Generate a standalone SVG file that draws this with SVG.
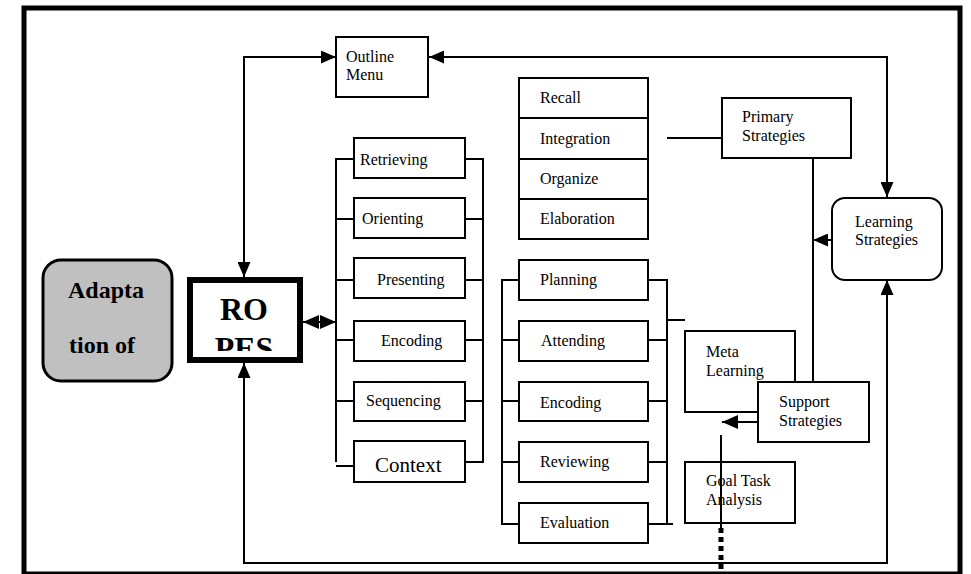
<svg xmlns="http://www.w3.org/2000/svg" width="971" height="574" viewBox="0 0 971 574">
<defs>
<marker id="ah" markerUnits="userSpaceOnUse" markerWidth="15" markerHeight="13" refX="15" refY="6.5" orient="auto-start-reverse" viewBox="0 0 15 13"><path d="M0,0 L15,6.5 L0,13 z" fill="#000"/></marker>
<marker id="ahs" markerUnits="userSpaceOnUse" markerWidth="16" markerHeight="14" refX="16" refY="7" orient="auto-start-reverse" viewBox="0 0 16 14"><path d="M0,0 L16,7 L0,14 z" fill="#000"/></marker>
<clipPath id="roclip"><rect x="193" y="283" width="104" height="68"/></clipPath>
</defs>
<style>
.box{fill:#fff;stroke:#000;stroke-width:2}
.t{font-family:"Liberation Serif","Times New Roman",serif;font-size:16px;fill:#000}
.big{font-size:21px}
.b{font-family:"Liberation Serif","Times New Roman",serif;font-weight:bold;fill:#000}
.c{fill:none;stroke:#000;stroke-width:2}
</style>
<rect x="0" y="0" width="971" height="574" fill="#fff"/>
<rect x="24" y="8" width="936" height="566" fill="none" stroke="#000" stroke-width="5"/>

<g id="connectors">
<path class="c" d="M244,277 L244,57 L336,57" marker-start="url(#ah)" marker-end="url(#ah)"/>
<path class="c" d="M887,197 L887,57 L429,57" marker-start="url(#ah)" marker-end="url(#ah)"/>
<path class="c" d="M244,363 L244,563 L887,563 L887,280" marker-start="url(#ah)" marker-end="url(#ah)"/>
<path class="c" stroke-width="3" d="M303,322 L336,322" marker-start="url(#ahs)" marker-end="url(#ahs)"/>
<path class="c" d="M354,159 H336 V462 M336,466 H354 M336,219 H354 M336,280 H354 M336,340 H354 M336,401 H354"/>
<path class="c" d="M465,159 H483 V462 H465 M465,219 H483 M465,280 H483 M465,340 H483 M465,401 H483"/>
<path class="c" d="M519,280 H502 V524 H525 M502,340 H519 M502,401 H519 M502,462 H519"/>
<path class="c" d="M648,280 H667 V524 H673 M648,524 H667 M648,340 H667 M648,401 H667 M648,462 H667 M667,320 H685"/>
<path class="c" d="M667,138 H722"/>
<path class="c" d="M813,158 V382"/>
<path class="c" d="M832,240 L813,240" marker-end="url(#ah)"/>
<path class="c" stroke-width="3" d="M758,422 L722,422" marker-end="url(#ahs)"/>
<path class="c" d="M721,435 V528"/>
<path fill="none" stroke="#000" stroke-width="5" stroke-dasharray="5,4" d="M721,528 V574"/>
</g>

<g id="adaptation">
<rect x="43" y="260" width="129" height="121" rx="18" ry="18" fill="#c0c0c0" stroke="#000" stroke-width="3"/>
<text class="b" x="68" y="298" font-size="24">Adapta</text>
<text class="b" x="69" y="353" font-size="24">tion of</text>
</g>

<g id="ropes">
<rect x="190" y="280" width="110" height="80" fill="#fff" stroke="#000" stroke-width="6"/>
<g clip-path="url(#roclip)">
<text class="b" x="244" y="320" font-size="32" text-anchor="middle">RO</text>
<text class="b" x="244" y="359" font-size="32" text-anchor="middle">PES</text>
</g>
</g>

<g id="outline-menu">
<rect class="box" x="336" y="37" width="92" height="60"/>
<text class="t" x="346" y="62">Outline</text>
<text class="t" x="346" y="80">Menu</text>
</g>

<g id="retrieving"><rect class="box" x="354" y="138" width="111" height="40"/><text class="t" x="360" y="165">Retrieving</text></g>
<g id="orienting"><rect class="box" x="354" y="198" width="111" height="40"/><text class="t" x="362" y="224">Orienting</text></g>
<g id="presenting"><rect class="box" x="354" y="258" width="111" height="40"/><text class="t" x="377" y="285">Presenting</text></g>
<g id="encoding-1"><rect class="box" x="354" y="321" width="111" height="40"/><text class="t" x="381" y="346">Encoding</text></g>
<g id="sequencing"><rect class="box" x="354" y="382" width="111" height="39"/><text class="t" x="366" y="406">Sequencing</text></g>
<g id="context"><rect class="box" x="354" y="441" width="111" height="41"/><text class="t big" x="375" y="472">Context</text></g>

<g id="recall"><rect class="box" x="519" y="78" width="129" height="40"/><text class="t" x="540" y="103">Recall</text></g>
<g id="integration"><rect class="box" x="519" y="118" width="129" height="41"/><text class="t" x="540" y="144">Integration</text></g>
<g id="organize"><rect class="box" x="519" y="159" width="129" height="40"/><text class="t" x="540" y="184">Organize</text></g>
<g id="elaboration"><rect class="box" x="519" y="199" width="129" height="40"/><text class="t" x="540" y="224">Elaboration</text></g>

<g id="planning"><rect class="box" x="519" y="260" width="129" height="40"/><text class="t" x="540" y="285">Planning</text></g>
<g id="attending"><rect class="box" x="519" y="321" width="129" height="40"/><text class="t" x="541" y="346">Attending</text></g>
<g id="encoding-2"><rect class="box" x="519" y="382" width="129" height="39"/><text class="t" x="540" y="408">Encoding</text></g>
<g id="reviewing"><rect class="box" x="519" y="442" width="129" height="40"/><text class="t" x="540" y="467">Reviewing</text></g>
<g id="evaluation"><rect class="box" x="519" y="503" width="129" height="40"/><text class="t" x="540" y="528">Evaluation</text></g>

<g id="primary-strategies"><rect class="box" x="722" y="98" width="129" height="60"/><text class="t" x="742" y="122">Primary</text><text class="t" x="742" y="141">Strategies</text></g>
<g id="learning-strategies"><rect class="box" x="832" y="198" width="110" height="82" rx="13" ry="13"/><text class="t" x="855" y="227">Learning</text><text class="t" x="855" y="245">Strategies</text></g>
<g id="meta-learning"><rect class="box" x="685" y="331" width="110" height="81"/><text class="t" x="706" y="357">Meta</text><text class="t" x="706" y="376">Learning</text></g>
<g id="support-strategies"><rect class="box" x="758" y="382" width="111" height="60"/><text class="t" x="779" y="407">Support</text><text class="t" x="779" y="426">Strategies</text></g>
<g id="goal-task-analysis"><rect class="box" x="685" y="462" width="110" height="61"/><text class="t" x="706" y="486">Goal Task</text><text class="t" x="706" y="505">Analysis</text></g>
<path d="M721,462 V523" stroke="#000" stroke-width="2"/>
</svg>
